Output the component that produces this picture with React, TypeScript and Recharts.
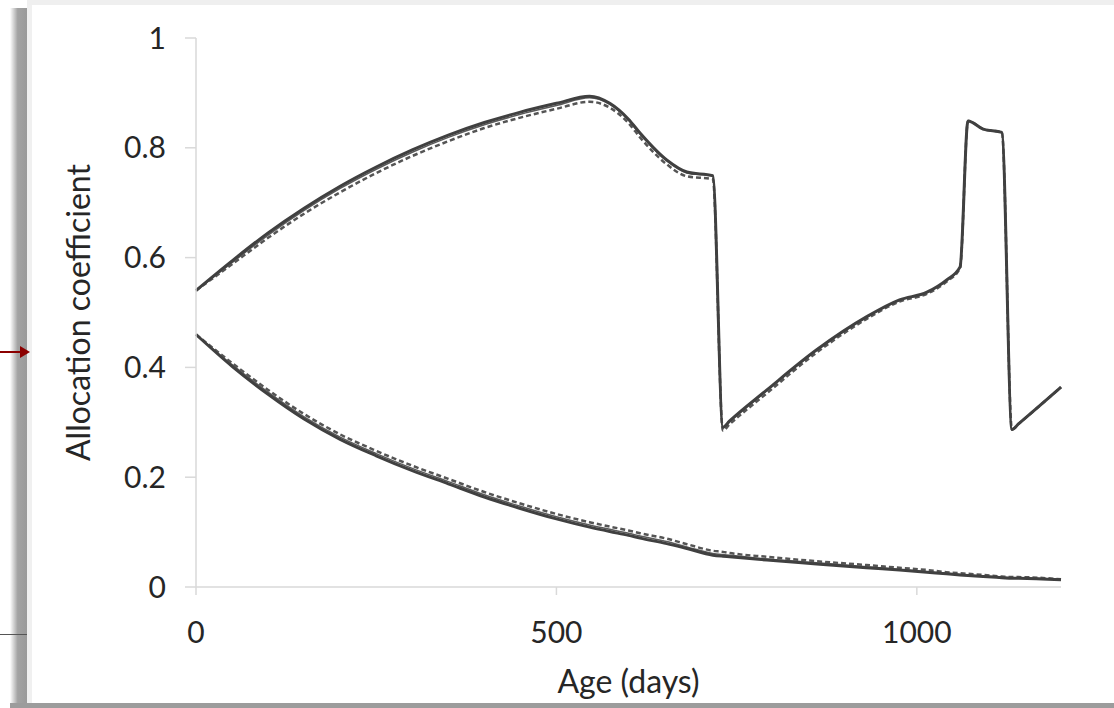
import { LineChart, Line, XAxis, YAxis } from 'recharts';

// age (days) at each sample
const ages = [0, 50, 100, 150, 200, 250, 300, 350, 400, 450, 500, 546, 574, 600, 616, 653, 681, 717, 731, 740, 792, 861, 930, 976, 1014, 1041, 1060, 1071, 1092, 1118, 1132, 1141, 1200];

// upper group
const upperMain = [0.54, 0.594, 0.645, 0.69, 0.73, 0.765, 0.796, 0.823, 0.846, 0.865, 0.881, 0.894, 0.881, 0.852, 0.827, 0.778, 0.756, 0.749, 0.291, 0.302, 0.359, 0.432, 0.492, 0.523, 0.537, 0.559, 0.583, 0.849, 0.834, 0.828, 0.287, 0.297, 0.364];
const upperThin = [0.54, 0.591, 0.641, 0.686, 0.726, 0.761, 0.792, 0.819, 0.842, 0.861, 0.877, 0.891, 0.879, 0.85, 0.825, 0.776, 0.754, 0.748, 0.29, 0.301, 0.358, 0.431, 0.491, 0.522, 0.536, 0.558, 0.582, 0.849, 0.834, 0.828, 0.287, 0.297, 0.364];
const upperDashed = [0.54, 0.588, 0.636, 0.68, 0.719, 0.754, 0.785, 0.812, 0.836, 0.855, 0.871, 0.884, 0.873, 0.845, 0.819, 0.77, 0.748, 0.743, 0.285, 0.296, 0.353, 0.427, 0.488, 0.52, 0.534, 0.556, 0.581, 0.849, 0.834, 0.828, 0.287, 0.297, 0.364];

// lower group
const lowerMain = [0.46, 0.402, 0.351, 0.306, 0.269, 0.239, 0.212, 0.188, 0.164, 0.143, 0.124, 0.109, 0.101, 0.094, 0.089, 0.079, 0.07, 0.058, 0.056, 0.055, 0.049, 0.042, 0.035, 0.031, 0.027, 0.024, 0.022, 0.021, 0.019, 0.017, 0.016, 0.016, 0.013];
const lowerThin = [0.46, 0.405, 0.355, 0.31, 0.273, 0.243, 0.216, 0.192, 0.168, 0.147, 0.128, 0.113, 0.105, 0.098, 0.093, 0.083, 0.073, 0.061, 0.059, 0.058, 0.051, 0.044, 0.037, 0.032, 0.028, 0.025, 0.023, 0.022, 0.02, 0.018, 0.017, 0.017, 0.014];
const lowerDashed = [0.46, 0.408, 0.359, 0.315, 0.278, 0.248, 0.221, 0.197, 0.173, 0.152, 0.133, 0.118, 0.11, 0.103, 0.098, 0.088, 0.078, 0.066, 0.064, 0.062, 0.055, 0.047, 0.04, 0.035, 0.031, 0.027, 0.025, 0.024, 0.022, 0.019, 0.018, 0.018, 0.014];

const yTicks = [0, 0.2, 0.4, 0.6, 0.8, 1];
const xTicks = [0, 500, 1000];

const data = ages.map((age, i) => ({
  age,
  upperMain: upperMain[i],
  upperThin: upperThin[i],
  upperDashed: upperDashed[i],
  lowerMain: lowerMain[i],
  lowerThin: lowerThin[i],
  lowerDashed: lowerDashed[i],
}));

const font = 'Lato, "Open Sans", sans-serif';
const tickStyle = { fontSize: 30, fill: '#262626', fontFamily: font };
const axisLine = { stroke: '#d9d9d9', strokeWidth: 1.5 };

export default function App() {
  return (
    <div style={{ position: 'absolute', left: 0, top: 0, width: 1114, height: 708, overflow: 'hidden', background: '#fff' }}>
      {/* page frame around the figure */}
      <div style={{ position: 'absolute', left: 27, top: 0, width: 1087, height: 5, background: '#efefef' }} />
      <div style={{ position: 'absolute', left: 10, top: 8, width: 17, height: 700, background: 'linear-gradient(to right, #ffffff, #a3a3a3 45%, #9a9a9a)' }} />
      <div style={{ position: 'absolute', left: 27, top: 5, width: 5, height: 698, background: '#f0f0f0' }} />
      <div style={{ position: 'absolute', left: 10, top: 703, width: 1104, height: 5, background: '#9c9c9c' }} />
      <div style={{ position: 'absolute', left: 0, top: 634, width: 27, height: 1, background: '#555' }} />
      <div style={{ position: 'absolute', left: 0, top: 351, width: 22, height: 2, background: '#8b0000' }} />
      <div style={{ position: 'absolute', left: 20, top: 346, width: 0, height: 0, borderTop: '6px solid transparent', borderBottom: '6px solid transparent', borderLeft: '10px solid #8b0000' }} />

      <div style={{ position: 'absolute', left: 0, top: 0 }}>
        <LineChart width={1114} height={708} data={data} margin={{ top: 38, right: 53, bottom: 11, left: 0 }}>
          <XAxis
            dataKey="age"
            type="number"
            domain={[0, 1200]}
            ticks={xTicks}
            axisLine={axisLine}
            tickLine={axisLine}
            tickSize={8}
            tickMargin={27}
            tick={tickStyle}
            height={110}
            label={{ value: 'Age (days)', position: 'insideBottom', offset: 4, style: { fontSize: 32, fill: '#262626', fontFamily: font } }}
          />
          <YAxis
            type="number"
            domain={[0, 1]}
            ticks={yTicks}
            axisLine={axisLine}
            tickLine={axisLine}
            tickSize={11}
            tickMargin={19}
            tick={tickStyle}
            width={196}
            label={({ viewBox }: any) => (
              <text
                x={viewBox.x + 90}
                y={viewBox.y + viewBox.height / 2}
                transform={`rotate(-90, ${viewBox.x + 90}, ${viewBox.y + viewBox.height / 2})`}
                textAnchor="middle"
                fontSize={32}
                fill="#262626"
                fontFamily={font}
              >
                Allocation coefficient
              </text>
            )}
          />
          <Line type="monotone" dataKey="upperDashed" stroke="#555" strokeWidth={2.5} strokeDasharray="5 3" dot={false} isAnimationActive={false} />
          <Line type="monotone" dataKey="upperThin" stroke="#5a5a5a" strokeWidth={1.5} dot={false} isAnimationActive={false} />
          <Line type="monotone" dataKey="upperMain" stroke="#404040" strokeWidth={3} dot={false} isAnimationActive={false} />
          <Line type="monotone" dataKey="lowerDashed" stroke="#555" strokeWidth={2.5} strokeDasharray="5 3" dot={false} isAnimationActive={false} />
          <Line type="monotone" dataKey="lowerThin" stroke="#5a5a5a" strokeWidth={1.5} dot={false} isAnimationActive={false} />
          <Line type="monotone" dataKey="lowerMain" stroke="#404040" strokeWidth={3} dot={false} isAnimationActive={false} />
        </LineChart>
      </div>
    </div>
  );
}
